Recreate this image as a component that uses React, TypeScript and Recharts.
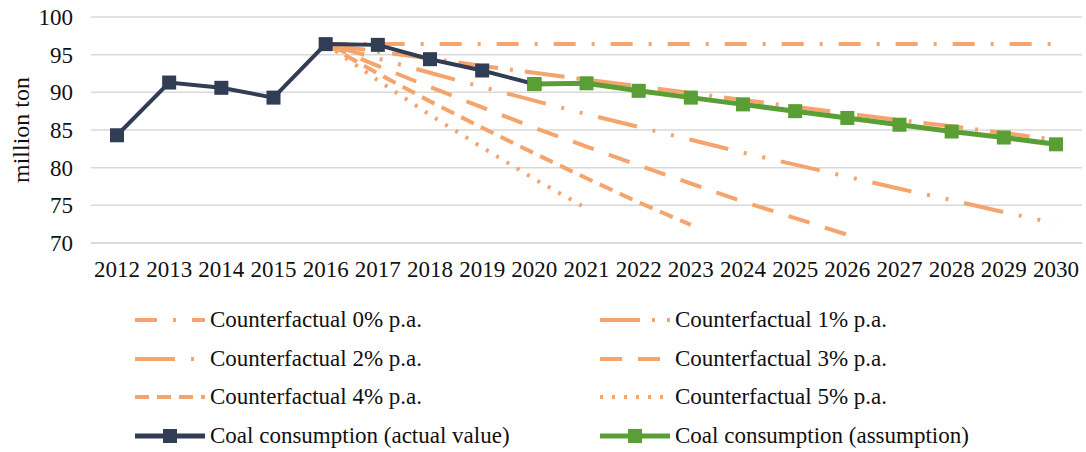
import React from 'react'
import { LineChart, Line, XAxis, YAxis, CartesianGrid } from 'recharts'

const years = ['2012', '2013', '2014', '2015', '2016', '2017', '2018', '2019', '2020', '2021', '2022', '2023', '2024', '2025', '2026', '2027', '2028', '2029', '2030']
const yTicks = [70, 75, 80, 85, 90, 95, 100]

const actual = [84.3, 91.3, 90.6, 89.3, 96.4, 96.3, 94.4, 92.9, 91.1, null, null, null, null, null, null, null, null, null, null]
const assumption = [null, null, null, null, null, null, null, null, 91.1, 91.2, 90.2, 89.3, 88.4, 87.5, 86.6, 85.7, 84.8, 84.0, 83.1]
const cf0 = [null, null, null, null, 96.4, 96.4, 96.4, 96.4, 96.4, 96.4, 96.4, 96.4, 96.4, 96.4, 96.4, 96.4, 96.4, 96.4, 96.4]
const cf1 = [null, null, null, null, 96.4, 95.4, 94.5, 93.5, 92.6, 91.7, 90.8, 89.9, 89.0, 88.1, 87.2, 86.3, 85.5, 84.6, 83.7]
const cf2 = [null, null, null, null, 96.4, 94.5, 92.6, 90.7, 88.9, 87.1, 85.4, 83.7, 82.0, 80.4, 78.8, 77.2, 75.7, 74.1, 72.6]
const cf3 = [null, null, null, null, 96.4, 93.5, 90.7, 88.0, 85.3, 82.8, 80.3, 77.9, 75.5, 73.3, 71.1, null, null, null, null]
const cf4 = [null, null, null, null, 96.4, 92.5, 88.8, 85.3, 81.9, 78.6, 75.4, 72.4, null, null, null, null, null, null, null]
const cf5 = [null, null, null, null, 96.4, 91.6, 87.0, 82.7, 78.5, 74.6, null, null, null, null, null, null, null, null, null]

const data = years.map((year, i) => ({
  year,
  actual: actual[i],
  assumption: assumption[i],
  cf0: cf0[i],
  cf1: cf1[i],
  cf2: cf2[i],
  cf3: cf3[i],
  cf4: cf4[i],
  cf5: cf5[i],
}))

const ORANGE = '#F4A46C'
const NAVY = '#303D55'
const GREEN = '#5A9E36'
const FONT = '"Liberation Serif", "Times New Roman", serif'

// dash patterns for the counterfactual lines
const dashes: Record<string, string> = {
  cf0: '22 16 3 16',
  cf1: '40 12 3 12',
  cf2: '40 16 3 16 3 16',
  cf3: '22 16',
  cf4: '14 8',
  cf5: '3 9',
}

const legendItems = [
  { key: 'cf0', name: 'Counterfactual 0% p.a.' },
  { key: 'cf1', name: 'Counterfactual 1% p.a.' },
  { key: 'cf2', name: 'Counterfactual 2% p.a.' },
  { key: 'cf3', name: 'Counterfactual 3% p.a.' },
  { key: 'cf4', name: 'Counterfactual 4% p.a.' },
  { key: 'cf5', name: 'Counterfactual 5% p.a.' },
  { key: 'actual', name: 'Coal consumption (actual value)' },
  { key: 'assumption', name: 'Coal consumption (assumption)' },
]

const squareDot = (color: string) => (props: any) => {
  const { cx, cy, index } = props
  if (cx == null || cy == null || props.value == null) return <g key={index} />
  return <rect key={index} x={cx - 7} y={cy - 7} width={14} height={14} fill={color} />
}

function LegendIcon({ k }: { k: string }) {
  if (k === 'actual' || k === 'assumption') {
    const c = k === 'actual' ? NAVY : GREEN
    return (
      <svg width={74} height={20}>
        <line x1={2} y1={10} x2={72} y2={10} stroke={c} strokeWidth={5} />
        <rect x={30} y={3} width={14} height={14} fill={c} />
      </svg>
    )
  }
  return (
    <svg width={74} height={20}>
      <line x1={2} y1={10} x2={72} y2={10} stroke={ORANGE} strokeWidth={4} strokeDasharray={dashes[k]} />
    </svg>
  )
}

function YTitle({ viewBox }: any) {
  const cy = viewBox.y + viewBox.height / 2
  return (
    <text x={21} y={cy} transform={`rotate(-90, 21, ${cy})`} textAnchor="middle" dominantBaseline="central" fontSize={24} fill="#111">
      million ton
    </text>
  )
}

export default function App() {
  return (
    <div style={{ position: 'absolute', left: 0, top: 0, width: 1086, height: 452, background: '#fff', fontFamily: FONT }}>
      <style>{`svg text, svg tspan { font-family: ${FONT}; }`}</style>
      <LineChart width={1086} height={290} data={data} margin={{ top: 17, right: 4, left: 0, bottom: 7 }}>
        <CartesianGrid vertical={false} stroke="#d9d9d9" strokeWidth={1.5} />
        <XAxis
          dataKey="year"
          interval={0}
          padding={{ left: 26, right: 26 }}
          tickLine={false}
          tickSize={0}
          tickMargin={18}
          height={40}
          axisLine={{ stroke: '#d9d9d9', strokeWidth: 1.5 }}
          tick={{ fill: '#111', fontSize: 23 }}
        />
        <YAxis
          domain={[70, 100]}
          ticks={yTicks}
          width={91}
          axisLine={false}
          tickLine={false}
          tickSize={0}
          tickMargin={18}
          tick={{ fill: '#111', fontSize: 23 }}
          label={<YTitle />}
        />
        {['cf0', 'cf1', 'cf2', 'cf3', 'cf4', 'cf5'].map((k) => (
          <Line
            key={k}
            type="linear"
            dataKey={k}
            stroke={ORANGE}
            strokeWidth={4}
            strokeDasharray={dashes[k]}
            dot={false}
            activeDot={false}
            isAnimationActive={false}
          />
        ))}
        <Line type="linear" dataKey="actual" stroke={NAVY} strokeWidth={4} dot={squareDot(NAVY)} activeDot={false} isAnimationActive={false} />
        <Line type="linear" dataKey="assumption" stroke={GREEN} strokeWidth={5} dot={squareDot(GREEN)} activeDot={false} isAnimationActive={false} />
      </LineChart>

      {/* legend, two columns */}
      {legendItems.map((item, i) => {
        const col = i % 2
        const row = Math.floor(i / 2)
        return (
          <div
            key={item.key}
            style={{
              position: 'absolute',
              left: col === 0 ? 133 : 598,
              top: 306 + row * 38.7,
              height: 28,
              display: 'flex',
              alignItems: 'center',
              fontSize: 23,
              color: '#111',
              whiteSpace: 'nowrap',
            }}
          >
            <LegendIcon k={item.key} />
            <span style={{ marginLeft: 3 }}>{item.name}</span>
          </div>
        )
      })}
    </div>
  )
}
